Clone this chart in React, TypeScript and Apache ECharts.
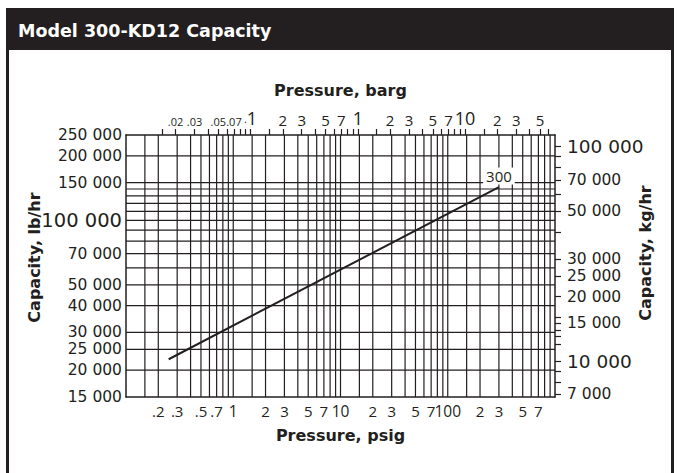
import React, { useEffect, useRef } from 'react';
import * as echarts from 'echarts';

const PSI_PER_BAR = 14.5038;
const LB_PER_KG = 2.20462;
const PSIG_MIN = 0.1;
const PSIG_MAX = 1000;
const LB_MIN = 15000;
const LB_MAX = 250000;

const TITLE = 'Model 300-KD12 Capacity';
const MODEL_NAME = '300';

// vertical grid lines (psig)
const PSIG_GRID = [0.15, 0.2, 0.3, 0.4, 0.5, 0.6, 0.7, 0.8, 0.9, 1, 1.5, 2, 3, 4, 5, 6, 7, 8, 9, 10, 15, 20, 30, 40, 50, 60, 70, 80, 90, 100, 150, 200, 300, 400, 500, 600, 700, 800, 900];
// horizontal grid lines (lb/hr)
const LB_GRID = [20000, 25000, 30000, 40000, 50000, 60000, 70000, 80000, 90000, 100000, 110000, 120000, 130000, 140000, 150000, 200000];

const PSIG_LABEL_VALUES = [0.2, 0.3, 0.5, 0.7, 1, 2, 3, 5, 7, 10, 20, 30, 50, 70, 100, 200, 300, 500, 700];
const PSIG_LABEL_TEXT = ['.2', '.3', '.5', '.7', '{b|1}', '2', '3', '5', '7', '{b|10}', '2', '3', '5', '7', '{b|100}', '2', '3', '5', '7'];

const BARG_TICKS = [0.015, 0.02, 0.03, 0.04, 0.05, 0.06, 0.07, 0.08, 0.09, 0.1, 0.15, 0.2, 0.3, 0.4, 0.5, 0.6, 0.7, 0.8, 0.9, 1, 1.5, 2, 3, 4, 5, 6, 7, 8, 9, 10, 15, 20, 30, 40, 50, 60];
const BARG_LABEL_VALUES = [0.02, 0.03, 0.05, 0.07, 0.1, 0.2, 0.3, 0.5, 0.7, 1, 2, 3, 5, 7, 10, 20, 30, 50];
const BARG_LABEL_TEXT = ['{s|.02}', '{s|.03}', '{s|.05}', '{s|.07}', '{s|.}{b|1}', '2', '3', '5', '7', '{b|1}', '2', '3', '5', '7', '{b|10}', '2', '3', '5'];

const LB_LABEL_VALUES = [15000, 20000, 25000, 30000, 40000, 50000, 70000, 100000, 150000, 200000, 250000];
const LB_LABEL_TEXT = ['15 000', '20 000', '25 000', '30 000', '40 000', '50 000', '70 000', '{b|100 000}', '150 000', '200 000', '250 000'];

const KG_TICKS = [7000, 8000, 9000, 10000, 12000, 13000, 14000, 15000, 16000, 20000, 25000, 30000, 40000, 50000, 60000, 70000, 80000, 90000, 100000];
const KG_LABEL_VALUES = [7000, 10000, 15000, 20000, 25000, 30000, 50000, 70000, 100000];
const KG_LABEL_TEXT = ['7 000', '{b|10 000}', '15 000', '20 000', '25 000', '30 000', '50 000', '70 000', '{b|100 000}'];

// Model 300 capacity line: [psig, lb/hr]
const PRESSURE_PSIG = [0.25, 300];
const CAPACITY_LBHR = [22500, 143000];

const INK = '#231f20';
const FONT = 'Open Sans';
const WIDE = 'DejaVu Sans';

function lookup(values: number[], texts: string[]) {
  return (v: number) => {
    const i = values.findIndex((x) => Math.abs(Math.log10(x) - Math.log10(v)) < 1e-4);
    return i >= 0 ? texts[i] : '';
  };
}

export default function App() {
  const ref = useRef<HTMLDivElement>(null);
  useEffect(() => {
    if (!ref.current) return;
    const chart = echarts.init(ref.current, undefined, { renderer: 'svg' });
    const lineData = PRESSURE_PSIG.map((p, i) => [p, CAPACITY_LBHR[i]]);
    const gridStyle = { stroke: INK, lineWidth: 1.2 };
    const nameStyle = { fontFamily: WIDE, fontWeight: 'bold', fontSize: 16, color: INK };
    const option: any = {
      animation: false,
      backgroundColor: '#fff',
      textStyle: { fontFamily: FONT, color: INK },
      title: {
        text: TITLE,
        left: 13,
        top: 17,
        textStyle: { color: '#fff', fontFamily: WIDE, fontWeight: 'bold', fontSize: 17.5 },
        z: 10,
      },
      graphic: [
        { type: 'rect', z: 1, shape: { x: 6, y: 8, width: 668, height: 42 }, style: { fill: INK } },
        { type: 'rect', z: 1, shape: { x: 6, y: 8, width: 3, height: 470 }, style: { fill: INK } },
        { type: 'rect', z: 1, shape: { x: 671, y: 8, width: 3, height: 470 }, style: { fill: INK } },
      ],
      grid: { left: 126, right: 122, top: 135, bottom: 76 },
      xAxis: [
        {
          type: 'log',
          logBase: 10,
          position: 'bottom',
          min: PSIG_MIN,
          max: PSIG_MAX,
          name: 'Pressure, psig',
          nameLocation: 'middle',
          nameGap: 30,
          nameMoveOverlap: false,
          nameTextStyle: nameStyle,
          axisLine: { show: true, lineStyle: { color: INK, width: 1.5 } },
          axisTick: { show: false },
          splitLine: { show: false },
          axisLabel: {
            customValues: PSIG_LABEL_VALUES,
            formatter: lookup(PSIG_LABEL_VALUES, PSIG_LABEL_TEXT),
            margin: 6,
            color: INK,
            fontFamily: FONT,
            fontSize: 15,
            rich: { b: { fontSize: 15.5, fontFamily: FONT, color: INK } },
          },
        },
        {
          type: 'log',
          logBase: 10,
          position: 'top',
          min: PSIG_MIN / PSI_PER_BAR,
          max: PSIG_MAX / PSI_PER_BAR,
          name: 'Pressure, barg',
          nameLocation: 'middle',
          nameGap: 37,
          nameMoveOverlap: false,
          nameTextStyle: nameStyle,
          axisLine: { show: true, lineStyle: { color: INK, width: 1.5 } },
          axisTick: { show: true, customValues: BARG_TICKS, length: 6, lineStyle: { color: INK, width: 1.2 } },
          splitLine: { show: false },
          axisLabel: {
            customValues: BARG_LABEL_VALUES,
            formatter: lookup(BARG_LABEL_VALUES, BARG_LABEL_TEXT),
            margin: 8,
            color: INK,
            fontFamily: FONT,
            fontSize: 15,
            rich: {
              b: { fontSize: 18, fontFamily: FONT, color: INK },
              s: { fontSize: 11, fontFamily: FONT, color: INK },
            },
          },
        },
      ],
      yAxis: [
        {
          type: 'log',
          logBase: 10,
          position: 'left',
          min: LB_MIN,
          max: LB_MAX,
          name: 'Capacity, lb/hr',
          nameLocation: 'middle',
          nameRotate: 90,
          nameGap: 84,
          nameMoveOverlap: false,
          nameTextStyle: { ...nameStyle, padding: [0, 0, 0, 17] },
          axisLine: { show: true, lineStyle: { color: INK, width: 1.5 } },
          axisTick: { show: false },
          splitLine: { show: false },
          axisLabel: {
            customValues: LB_LABEL_VALUES,
            formatter: lookup(LB_LABEL_VALUES, LB_LABEL_TEXT),
            margin: 4,
            color: INK,
            fontFamily: WIDE,
            fontSize: 15.5,
            rich: { b: { fontSize: 19.5, fontFamily: WIDE, color: INK } },
          },
        },
        {
          type: 'log',
          logBase: 10,
          position: 'right',
          min: LB_MIN / LB_PER_KG,
          max: LB_MAX / LB_PER_KG,
          name: 'Capacity, kg/hr',
          nameLocation: 'middle',
          nameRotate: 90,
          nameGap: 82,
          nameMoveOverlap: false,
          nameTextStyle: { ...nameStyle, padding: [0, 0, 0, 26] },
          axisLine: { show: true, lineStyle: { color: INK, width: 1.5 } },
          axisTick: { show: true, customValues: KG_TICKS, length: 6, lineStyle: { color: INK, width: 1.2 } },
          splitLine: { show: false },
          axisLabel: {
            customValues: KG_LABEL_VALUES,
            formatter: lookup(KG_LABEL_VALUES, KG_LABEL_TEXT),
            margin: 12,
            color: INK,
            fontFamily: WIDE,
            fontSize: 15.5,
            rich: { b: { fontSize: 18.5, fontFamily: WIDE, color: INK } },
          },
        },
      ],
      series: [
        {
          type: 'custom',
          xAxisIndex: 0,
          yAxisIndex: 0,
          silent: true,
          clip: false,
          data: PSIG_GRID.map((v) => [v, LB_MIN]),
          renderItem: (params: any, api: any) => {
            const x = api.value(0);
            const p1 = api.coord([x, LB_MIN]);
            const p2 = api.coord([x, LB_MAX]);
            return { type: 'line', shape: { x1: p1[0], y1: p1[1], x2: p2[0], y2: p2[1] }, style: gridStyle };
          },
        },
        {
          type: 'custom',
          xAxisIndex: 0,
          yAxisIndex: 0,
          silent: true,
          clip: false,
          data: LB_GRID.map((v) => [PSIG_MIN, v]),
          renderItem: (params: any, api: any) => {
            const y = api.value(1);
            const p1 = api.coord([PSIG_MIN, y]);
            const p2 = api.coord([PSIG_MAX, y]);
            return { type: 'line', shape: { x1: p1[0], y1: p1[1], x2: p2[0], y2: p2[1] }, style: gridStyle };
          },
        },
        {
          type: 'line',
          xAxisIndex: 0,
          yAxisIndex: 0,
          data: lineData,
          showSymbol: false,
          symbol: 'none',
          lineStyle: { color: INK, width: 2 },
          z: 5,
          markPoint: {
            silent: true,
            symbol: 'rect',
            symbolSize: 1,
            itemStyle: { color: 'rgba(0,0,0,0)' },
            data: [
              {
                coord: lineData[lineData.length - 1],
                label: {
                  show: true,
                  position: 'top',
                  distance: 2,
                  formatter: MODEL_NAME,
                  backgroundColor: '#fff',
                  padding: [1, 3],
                  color: INK,
                  fontFamily: FONT,
                  fontSize: 15,
                },
              },
            ],
          },
        },
      ],
    };
    chart.setOption(option);
    return () => chart.dispose();
  }, []);
  return <div ref={ref} style={{ position: 'absolute', left: 0, top: 0, width: 677, height: 473, background: '#fff' }} />;
}
